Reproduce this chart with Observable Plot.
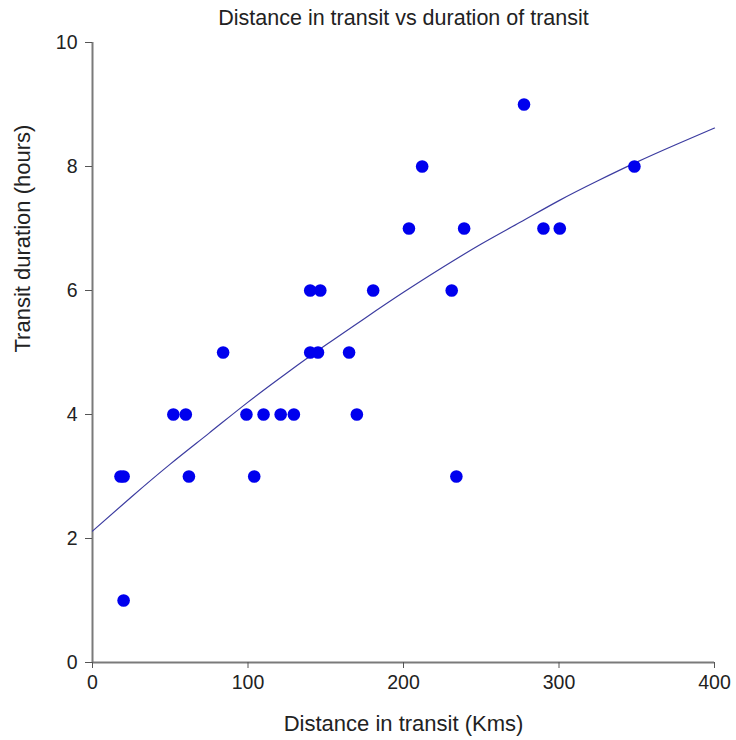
<!DOCTYPE html>
<html>
<head>
<meta charset="utf-8">
<script src="https://cdn.jsdelivr.net/npm/d3@7"></script>
<script src="https://cdn.jsdelivr.net/npm/@observablehq/plot@0.6"></script>
<style>
  body { margin: 0; background: #fff; }
  svg { font-family: "Liberation Sans", Arial, sans-serif; }
</style>
</head>
<body>
<div id="chart"></div>
<script>
const distance = [18, 20, 20, 52, 60, 62, 84, 99, 104, 110, 121, 129.5, 140, 146.5, 140, 145, 165, 170, 180.5, 203.5, 212, 231, 234, 239, 277.5, 290, 300.5, 348.5];
const duration = [3, 3, 1, 4, 4, 3, 5, 4, 3, 4, 4, 4, 6, 6, 5, 5, 5, 4, 6, 7, 8, 6, 3, 7, 9, 7, 7, 8];

const fitX = [0, 25, 50, 75, 100, 125, 150, 175, 200, 225, 250, 275, 300, 325, 350, 375, 400];
const fitY = [2.12, 2.67, 3.20, 3.70, 4.20, 4.67, 5.12, 5.55, 5.97, 6.37, 6.75, 7.10, 7.45, 7.77, 8.07, 8.35, 8.62];

const xTicks = [0, 100, 200, 300, 400];
const yTicks = [0, 2, 4, 6, 8, 10];

const points = distance.map((d, i) => ({x: d, y: duration[i]}));
const fit = fitX.map((d, i) => ({x: d, y: fitY[i]}));

const chart = Plot.plot({
  width: 736,
  height: 740,
  marginLeft: 92,
  marginRight: 22,
  marginTop: 42,
  marginBottom: 78,
  style: {fontFamily: "'Liberation Sans', Arial, sans-serif", fontSize: "19px", color: "#222"},
  x: {domain: [0, 400], ticks: xTicks, label: null},
  y: {domain: [0, 10], ticks: yTicks, label: null},
  marks: [
    Plot.ruleY([0], {stroke: "#7a7a7a", strokeWidth: 2}),
    Plot.ruleX([0], {stroke: "#7a7a7a", strokeWidth: 2}),
    Plot.axisX({ticks: xTicks, tickSize: 6, tickPadding: 7, fontSize: 19.5, stroke: "#555", fill: "#222"}),
    Plot.axisY({ticks: yTicks, tickSize: 7, tickPadding: 8, fontSize: 19.5, stroke: "#555", fill: "#222"}),
    Plot.line(fit, {x: "x", y: "y", stroke: "#3c3ca0", strokeWidth: 1.2, curve: "natural"}),
    Plot.dot(points, {x: "x", y: "y", r: 6.3, fill: "#0000ee", stroke: "none"}),
    Plot.text(["Distance in transit vs duration of transit"], {frameAnchor: "top", lineAnchor: "middle", dy: -24, fontSize: 21.5, fill: "#222"}),
    Plot.text(["Distance in transit (Kms)"], {frameAnchor: "bottom", lineAnchor: "middle", dy: 61, fontSize: 22, fill: "#222"}),
    Plot.text(["Transit duration (hours)"], {frameAnchor: "left", lineAnchor: "middle", dx: -70, rotate: -90, fontSize: 22, fill: "#222"})
  ]
});
document.getElementById("chart").appendChild(chart);
</script>
</body>
</html>
